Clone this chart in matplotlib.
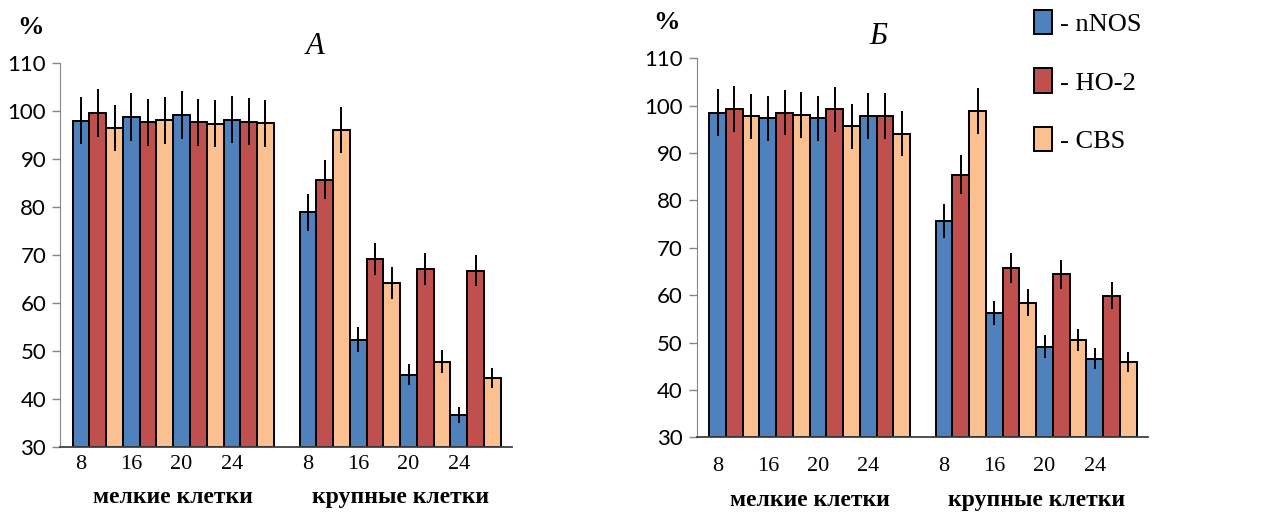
import matplotlib
matplotlib.use('Agg')
import matplotlib.pyplot as plt
import numpy as np

# hours of exposure (tick labels) and cell groups
HOURS = ["8", "16", "20", "24"]
GROUPS = ["мелкие клетки", "крупные клетки"]
SERIES = ["nNOS", "HO-2", "CBS"]
COLORS = ["#4F81BD", "#C0504D", "#FAC090"]

# panel A: values per series, small cells then large cells (8, 16, 20, 24)
a_nnos = [97.9, 98.6, 99.1, 98.1, 78.8, 52.3, 45.0, 36.6]
a_ho2 = [99.6, 97.6, 97.6, 97.7, 85.6, 69.1, 67.0, 66.7]
a_cbs = [96.3, 98.0, 97.3, 97.4, 96.0, 64.1, 47.7, 44.4]
a_nnos_err = [4.9, 5.0, 5.0, 4.9, 3.9, 2.6, 2.2, 1.7]
a_ho2_err = [5.0, 4.9, 4.9, 4.9, 4.1, 3.4, 3.3, 3.2]
a_cbs_err = [4.8, 4.9, 4.9, 4.9, 4.8, 3.3, 2.4, 2.1]

# panel B
b_nnos = [98.5, 97.3, 97.3, 97.8, 75.6, 56.2, 49.1, 46.6]
b_ho2 = [99.3, 98.5, 99.2, 97.8, 85.4, 65.7, 64.4, 59.9]
b_cbs = [97.7, 98.0, 95.6, 94.1, 98.9, 58.4, 50.5, 45.9]
b_nnos_err = [4.9, 4.8, 4.8, 4.8, 3.6, 2.6, 2.4, 2.2]
b_ho2_err = [4.9, 4.8, 4.7, 4.8, 4.1, 3.2, 3.1, 2.9]
b_cbs_err = [4.8, 4.9, 4.7, 4.7, 4.9, 2.8, 2.3, 2.2]

SERIF = "Liberation Serif"
SANS = "Lato"


def draw_panel(ax, vals, errs, tick_pad, label_y):
    gap = 1.53
    handles = []
    for s, (v, e) in enumerate(zip(vals, errs)):
        xs = []
        for i in range(len(v)):
            grp, hr = divmod(i, len(HOURS))
            xs.append(grp * (len(HOURS) * 3 + gap) + hr * 3 + s + 0.5)
        h = ax.bar(xs, np.array(v) - 30, bottom=30, width=1.0,
                   color=COLORS[s], edgecolor="black", linewidth=1.4, zorder=2)
        ax.errorbar(xs, v, yerr=e, fmt="none", ecolor="black",
                    elinewidth=1.4, capsize=0, zorder=3)
        handles.append(h)

    ticks, labels = [], []
    for grp in range(len(GROUPS)):
        for hr, lab in enumerate(HOURS):
            ticks.append(grp * (len(HOURS) * 3 + gap) + hr * 3 + 0.5)
            labels.append(lab)
        centre = grp * (len(HOURS) * 3 + gap) + len(HOURS) * 3 / 2
        ax.text(centre, label_y, GROUPS[grp], transform=ax.get_xaxis_transform(),
                ha="center", va="center", fontsize=17, fontweight="bold",
                family=SERIF)
    ax.set_xticks(ticks)
    ax.set_xticklabels(labels, family=SERIF, fontsize=16)
    ax.tick_params(axis="x", length=0, pad=tick_pad)

    ax.set_xlim(-0.75, 26.2)
    ax.set_ylim(30, 110)
    ax.set_yticks(range(30, 111, 10))
    for t in ax.get_yticklabels():
        t.set_family(SANS)
        t.set_fontsize(16)
    ax.tick_params(axis="y", length=6, width=1, color="#868686", pad=4)
    ax.spines["top"].set_visible(False)
    ax.spines["right"].set_visible(False)
    ax.spines["left"].set_color("#868686")
    ax.spines["bottom"].set_color("#404040")
    ax.spines["bottom"].set_linewidth(1.3)
    return handles


fig = plt.figure(figsize=(12.72, 5.13), dpi=100)
ax_a = fig.add_axes([0.0472, 0.129, 0.3553, 0.749])
ax_b = fig.add_axes([0.5477, 0.1476, 0.3547, 0.739])

draw_panel(ax_a, [a_nnos, a_ho2, a_cbs], [a_nnos_err, a_ho2_err, a_cbs_err],
           tick_pad=6, label_y=-0.133)
handles = draw_panel(ax_b, [b_nnos, b_ho2, b_cbs],
                     [b_nnos_err, b_ho2_err, b_cbs_err],
                     tick_pad=14, label_y=-0.166)

fig.text(30 / 1272, 1 - 28 / 513, "%", family=SERIF, fontweight="bold",
         fontsize=19, ha="center", va="center")
fig.text(667 / 1272, 1 - 23 / 513, "%", family=SERIF, fontweight="bold",
         fontsize=19, ha="center", va="center")
fig.text(315 / 1272, 1 - 47 / 513, "А", family=SERIF, style="italic",
         fontsize=22, ha="center", va="center")
fig.text(878 / 1272, 1 - 37 / 513, "Б", family=SERIF, style="italic",
         fontsize=22, ha="center", va="center")

leg = fig.legend(handles, ["- " + s for s in SERIES], loc="upper left",
                 bbox_to_anchor=(1034 / 1272, 1 - 10 / 513), frameon=False,
                 prop={"family": SERIF, "size": 19}, handlelength=0.7,
                 handleheight=1.05, handletextpad=0.3, labelspacing=1.22,
                 borderpad=0, borderaxespad=0)

fig.savefig("out.png", dpi=100)
